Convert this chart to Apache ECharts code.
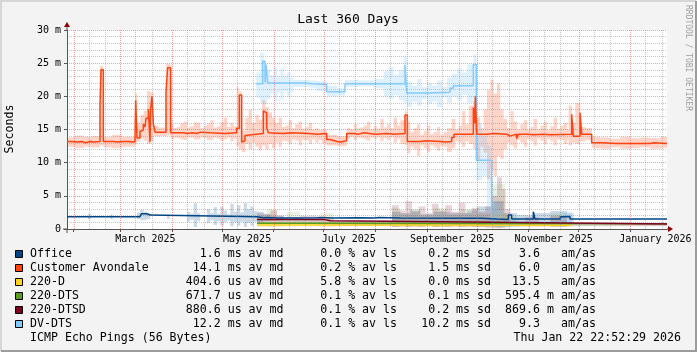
<!DOCTYPE html>
<html>
<head>
<meta charset="utf-8">
<script src="https://cdn.jsdelivr.net/npm/echarts@6.0.0/dist/echarts.min.js"></script>
<style>
html, body { margin: 0; padding: 0; background: #f3f3f3; }
#chart { width: 697px; height: 352px; }
</style>
</head>
<body>
<div id="chart"></div>
<script>
// x values are days since the start of the 360 day window
var START = Date.UTC(2025, 0, 27, 22, 52, 29);
function dayOf(y, m, d) { return (Date.UTC(y, m, d) - START) / 864e5; }

var yTicks = [0, 5, 10, 15, 20, 25, 30];
var labelMonths = [[2025, 2], [2025, 4], [2025, 6], [2025, 8], [2025, 10], [2026, 0]];
var labelText = ['March 2025', 'May 2025', 'July 2025', 'September 2025', 'November 2025', 'January 2026'];

// medians, ms : [day, value] step points
var officeMedian = [[0,1.85],[43.8,2.1],[44.6,2.3],[46,2.2],[47,2.3],[48,2.1],[49.8,1.85],[113.8,1.7],[118,1.75],[120,1.65],[126,1.75],[127,1.65],[140,1.7],[150,1.75],[152,1.65],[160,1.7],[175,1.65],[185,1.75],[187,1.65],[200,1.62],[248.8,1.66],[250,1.5],[258,1.45],[264.8,2.1],[266.8,1.5],[279.8,2.6],[280.8,1.5],[296,1.85],[298,1.55],[299,1.9],[301.8,1.5],[330,1.6],[331,1.5],[337,1.6],[338,1.5],[350,1.6],[351,1.5],[360,1.5]];
var avondaleMedian = [[0,13.2],[2.5,13.5],[3.5,13.1],[6,13.2],[9,13.0],[11,13.2],[14,13.1],[16,13.3],[17,13.2],[19.8,18.7],[20.4,24.0],[21.8,13.2],[24,13.4],[25,13.2],[28,13.1],[30,13.2],[34,13.5],[35,13.2],[37,13.1],[39,13.2],[40.8,13.6],[41.2,19.4],[42,13.7],[43.8,14.7],[44.6,14.9],[45.8,15.8],[46.8,15.4],[47.4,16.7],[48.8,18.1],[49.8,13.1],[50.2,18.1],[51,20.0],[51.8,15.9],[52.8,14.6],[59.4,20.7],[60.4,24.3],[62.2,14.5],[70,14.4],[72,14.5],[75,14.6],[76,14.4],[78,14.6],[80,14.5],[86,14.4],[95,14.5],[101.8,15.2],[103.4,20.2],[104.8,13.1],[105.8,13.3],[106.8,14.1],[107.8,14.4],[117.8,17.8],[118.8,17.5],[119.8,15.3],[120.8,14.5],[121.8,14.4],[130,14.5],[134,14.4],[145,14.3],[150,14.4],[155.8,13.5],[157.8,13.2],[162,13.1],[164,13.3],[167.8,14.4],[172,14.3],[175,14.5],[178,14.3],[185,14.4],[192,14.3],[196,14.4],[202.8,17.2],[204.2,13.2],[212,13.3],[215,13.2],[224,13.1],[227,13.2],[230.8,13.8],[232.2,14.3],[243.8,18.3],[244.6,15.9],[245,20.0],[245.8,14.3],[252,14.4],[256,14.3],[264,14.0],[265.6,14.3],[269.8,13.6],[270.8,14.3],[276,14.2],[280,14.3],[286,14.2],[290,14.3],[302.8,17.3],[303.8,14.0],[307.8,17.5],[308.8,14.3],[314.8,13.0],[320.8,12.9],[330,12.8],[331,12.9],[342,12.8],[343,12.9],[350,13.0],[352,12.9],[360,12.9]];
var d220Median = [[114,0.6],[200,0.55],[302.8,0.55]];
var dts220Median = [[114,0.86],[160,0.8],[360,0.7]];
var dtsd220Median = [[114,1.45],[154,1.25],[158,1.0],[256,0.75],[360,0.75]];
var dvdtsMedian = [[113.5,21.9],[117.4,25.3],[118.8,22.1],[119.4,24.8],[120.4,22.0],[141.8,21.9],[147.8,21.8],[155.8,20.7],[166.8,21.9],[192.8,21.8],[193.8,21.9],[202.8,24.7],[203.8,20.5],[217.8,20.6],[229.8,21.2],[231.8,21.6],[243.8,24.8],[245.6,10.35],[254.8,1.5],[256.8,0.8],[264.8,0.55],[271.8,0.9],[302.8,0.9]];

// smoke, ms : [dayFrom, dayTo, low, high]
var officeSmoke = [[12.6,14.4,1.5,2.3],[26,27.4,1.5,2.2],[42,44,1.5,2.5],[44,46,1.3,2.9],[46,48,1.4,2.6],[48,50,1.5,2.4],[60,61.5,1.5,2.2],[72,74,1.1,2.6],[74,76,1.4,2.3],[76,78,0.3,3.9],[78,80,1.2,2.4],[84,86,0.9,3.0],[86,88,1.3,2.4],[88,90,0.6,3.3],[90,92,1.2,2.3],[92,94,0.5,3.4],[94,96,1.0,2.8],[96,98,1.3,2.2],[98,100,0.4,3.8],[100,102,1.0,2.6],[102,104,0.5,3.6],[104,106,1.1,2.5],[106,108,0.3,3.9],[108,110,0.9,3.0],[110,112,0.5,3.4],[112,114,1.1,2.7],[114,118,1.0,2.6],[118,122,1.2,2.3],[122,130,1.3,2.0],[195,200,1.0,2.6],[200,206,1.1,2.4],[206,212,1.0,2.8],[212,220,1.2,2.2],[220,230,1.0,2.6],[230,240,1.1,2.4],[240,246,1.0,2.8],[246,256,0.6,3.4],[256,262,0.4,4.2],[262,270,1.0,2.4],[270,280,1.1,2.1],[280,290,1.0,2.4],[290,300,0.9,2.7],[300,304,1.0,2.4]];
var avondaleSmoke = [[0,5,12.4,13.8],[5,10,12.2,14.1],[10,15,12.4,13.9],[15,19.8,12.3,14.0],[19.8,21.8,12.6,24.6],[21.8,27,12.3,13.9],[27,33,12.2,14.2],[33,40.8,12.4,13.9],[40.8,42,12.8,20.5],[42,44,13.2,16.0],[44,46,13.6,17.2],[46,48,13.3,17.8],[48,50,12.8,20.8],[50,52,13.2,20.6],[52,55,14.0,15.6],[55,59.4,14.0,15.3],[59.4,62.2,14.1,24.9],[62.2,64,13.6,15.8],[64,66,13.8,15.2],[66,68,13.7,15.4],[68,70,13.5,15.9],[70,72,13.4,16.2],[72,74,13.8,15.3],[74,76,13.8,15.5],[76,78,13.5,16.1],[78,80,13.5,16.0],[80,82,13.8,15.2],[82,84,13.7,15.6],[84,86,13.4,15.9],[86,88,13.4,16.4],[88,90,13.8,15.3],[90,92,13.6,15.5],[92,94,13.3,16.1],[94,96,13.5,16.8],[96,98,13.8,15.4],[98,100,13.2,16.0],[100,101.8,13.6,15.5],[101.8,103,12.5,21.5],[103,104.8,12.0,20.8],[104.8,107,11.6,14.8],[107,109,12.8,16.8],[109,111,12.0,18.0],[111,113,13.0,16.0],[113,115,12.4,17.2],[115,117,11.8,16.5],[117,119,12.6,19.4],[119,121,12.0,18.4],[121,123,12.8,17.6],[123,125,12.2,16.8],[125,127,13.0,16.0],[127,129,12.4,16.8],[129,131,13.3,15.4],[131,133,13.2,15.6],[133,135,12.8,16.4],[135,137,13.5,15.2],[137,139,13.3,15.8],[139,141,12.6,16.2],[141,143,13.4,15.1],[143,145,13.4,15.4],[145,147,12.8,16.0],[147,149,13.5,15.0],[149,151,13.0,15.2],[151,153,13.4,14.9],[153,155.8,12.9,15.0],[155.8,162,12.6,14.2],[162,167.8,12.5,14.0],[167.8,170,13.6,15.2],[170,172,13.9,15.0],[172,174,13.4,15.8],[174,176,13.8,15.1],[176,178,13.7,15.3],[178,180,13.5,15.6],[180,182,13.3,16.2],[182,184,13.8,15.0],[184,186,13.6,15.5],[186,188,13.9,15.1],[188,190,13.2,16.6],[190,192,13.7,15.3],[192,194,13.4,15.8],[194,196,13.8,15.2],[196,198,13.0,16.8],[198,200,13.6,15.6],[200,202.8,12.8,16.4],[202.8,204.2,12.6,17.8],[204.2,206,11.4,16.2],[206,208,12.4,14.6],[208,210,12.0,15.2],[210,212,11.0,15.8],[212,214,12.6,14.2],[214,216,12.2,14.8],[216,218,11.6,15.6],[218,220,12.6,14.3],[220,222,12.3,14.6],[222,224,11.8,15.4],[224,226,12.5,14.2],[226,228,12.4,14.6],[228,230.8,11.6,15.2],[230.8,233,12.2,16.6],[233,235,13.2,15.0],[235,237,13.0,15.6],[237,239,12.4,17.8],[239,241,13.2,15.8],[241,243.8,12.8,18.6],[243.8,246,12.0,19.2],[246,248,10.4,16.8],[248,250,12.4,15.2],[250,252,11.5,18.0],[252,254,7.5,21.0],[254,256,9.0,22.5],[256,258,8.0,20.4],[258,260,11.0,22.0],[260,262,10.6,18.0],[262,264,12.0,16.6],[264,266,13.0,15.2],[266,268,12.6,17.8],[268,270,12.2,16.2],[270,272,13.4,15.0],[272,274,13.0,15.8],[274,276,12.4,16.4],[276,278,13.5,15.0],[278,280,13.2,15.4],[280,282,12.6,16.6],[282,284,13.6,15.0],[284,286,13.3,15.6],[286,288,12.8,16.2],[288,290,13.6,14.9],[290,292,13.2,15.5],[292,294,12.6,16.8],[294,296,13.5,15.1],[296,298,13.4,15.6],[298,300,12.8,16.0],[300,301,13.4,15.0],[301,303,12.6,18.6],[303,305,13.0,16.0],[305,308,12.8,19.0],[308,311,13.2,15.4],[311,314.8,13.4,15.2],[314.8,320,12.2,13.9],[320,326,12.1,13.8],[326,332,12.3,13.6],[332,338,12.1,13.9],[338,344,12.2,13.7],[344,350,12.3,13.8],[350,356,12.1,13.7],[356,360,12.2,13.9]];
var d220Smoke = [[114,130,0.3,1.0],[130,195,0.4,0.7],[195,255,0.3,1.2],[255,264,0.2,2.4],[264,303,0.3,0.8]];
var dts220Smoke = [[114,120,0.4,2.0],[120,126,0.3,3.0],[126,132,0.4,1.6],[132,140,0.4,2.6],[140,152,0.4,1.4],[152,160,0.3,2.4],[160,195,0.4,1.1],[195,200,0.3,3.2],[200,206,0.4,2.2],[206,212,0.3,3.0],[212,220,0.4,2.0],[220,228,0.3,3.2],[228,236,0.4,2.2],[236,246,0.3,3.0],[246,255,0.3,2.4],[255,263,0.2,6.8],[263,270,0.4,2.0],[270,290,0.5,1.0],[290,300,0.4,2.4],[300,360,0.5,0.9]];
var dtsd220Smoke = [[114,118,0.8,2.4],[118,122,0.9,2.2],[122,126,0.7,2.8],[126,130,0.9,2.0],[130,140,0.9,1.8],[140,150,0.8,2.0],[150,160,0.6,1.6],[160,195,0.5,1.3],[195,199,0.3,3.6],[199,203,0.4,2.8],[203,207,0.3,4.2],[207,211,0.4,2.6],[211,215,0.3,3.4],[215,219,0.5,2.4],[219,223,0.3,3.8],[223,227,0.4,2.8],[227,231,0.3,3.6],[231,235,0.4,2.6],[235,239,0.3,4.0],[239,243,0.4,2.4],[243,247,0.3,3.2],[247,251,0.3,2.6],[251,255,0.2,3.4],[255,258,0.2,5.0],[258,261,0.1,7.8],[261,263,0.2,6.0],[263,266,0.3,3.0],[266,275,0.4,1.0],[275,283,0.4,1.8],[283,290,0.4,1.0],[290,300,0.3,2.0],[300,360,0.4,0.8]];
var dvdtsSmoke = [[113.5,116,19.8,23.6],[116,118,19.0,26.6],[118,120,18.8,24.2],[120,122,19.6,24.0],[122,124,20.4,23.2],[124,126,19.2,24.4],[126,128,20.6,23.0],[128,130,19.4,24.2],[130,132,20.8,23.0],[132,134,19.8,23.6],[134,136,20.6,22.8],[136,146,21.4,22.5],[146,150,21.2,22.4],[150,156,20.8,22.3],[156,162,20.0,21.6],[162,166.8,20.1,21.2],[166.8,175,21.4,22.5],[175,184,21.5,22.4],[184,190,21.2,22.6],[190,193,20.0,23.8],[193,196,19.6,24.4],[196,199,20.2,23.2],[199,202,19.4,24.0],[202,204,19.0,26.0],[204,207,18.4,22.2],[207,210,19.2,21.6],[210,213,18.6,22.6],[213,216,19.6,21.4],[216,219,18.8,22.0],[219,222,19.2,21.6],[222,225,18.4,22.4],[225,228,19.8,21.4],[228,231,19.0,22.8],[231,234,20.0,23.4],[234,237,19.4,24.2],[237,240,20.2,23.6],[240,243.8,19.0,24.8],[243.8,245.6,18.8,26.4],[245.6,249,7.4,16.0],[249,252,8.0,14.0],[252,254.8,2.6,12.6],[254.8,258,0.4,4.2],[258,262,0.3,2.8],[262,272,0.3,1.4],[272,296,0.6,1.2],[296,302.8,0.4,2.6]];

// legend table
var legendNames = ['Office', 'Customer Avondale', '220-D', '220-DTS', '220-DTSD', 'DV-DTS'];
var legendColors = ['#004586', '#ff420e', '#ffd320', '#579d1c', '#7e0021', '#83caff'];
var legendMedian = ['1.6 ms', '14.1 ms', '404.6 us', '671.7 us', '880.6 us', '12.2 ms'];
var legendLoss = ['0.0', '0.2', '5.8', '0.1', '0.1', '0.1'];
var legendSd = ['0.2', '1.5', '0.0', '0.1', '0.2', '10.2'];
var legendAmas = ['3.6', '6.0', '13.5', '595.4', '869.6', '9.3'];
var legendAmasUnit = ['', '', '', 'm', 'm', ''];

var monthStarts = [];
var minorDays = [];
for (var i = 1; i <= 12; i++) {
    var yy = 2025 + Math.floor(i / 12), mm = i % 12;
    monthStarts.push(dayOf(yy, mm, 1));
    minorDays.push(dayOf(yy, mm, 10), dayOf(yy, mm, 20));
}
var labelDays = labelMonths.map(function(v) { return dayOf(v[0], v[1], 1) + 15; });

var MONO = '"DejaVu Sans Mono", monospace';
var chart = echarts.init(document.getElementById('chart'));

function smokeSeries(name, data, color) {
    return {
        name: name,
        type: 'custom',
        data: data,
        encode: { x: [0, 1], y: [2, 3] },
        itemStyle: { color: color },
        z: 2,
        clip: true,
        silent: true,
        renderItem: function(params, api) {
            var p0 = api.coord([api.value(0), api.value(3)]);
            var p1 = api.coord([api.value(1), api.value(2)]);
            return {
                type: 'rect',
                shape: { x: p0[0], y: p0[1], width: p1[0] - p0[0], height: p1[1] - p0[1] },
                style: { fill: api.visual('color') }
            };
        }
    };
}

function medianSeries(name, data, color) {
    return {
        name: name,
        type: 'line',
        step: 'end',
        data: data,
        symbol: 'none',
        lineStyle: { color: color, width: 1.5 },
        itemStyle: { color: color },
        z: 4,
        silent: true
    };
}

var gridLines = [];
minorDays.forEach(function(d) {
    if (d > 0 && d < 360) gridLines.push({ xAxis: d, lineStyle: { color: 'rgba(128,128,128,0.45)', type: [1, 1], width: 1 } });
});
monthStarts.forEach(function(d) {
    gridLines.push({ xAxis: d, lineStyle: { color: 'rgba(235,80,80,0.55)', type: [1, 1], width: 1 } });
});

// legend graphics
var graphic = [];
graphic.push({ type: 'text', x: 348, y: 19.5, style: { text: 'Last 360 Days', font: '13px ' + MONO, fill: '#000', align: 'center', verticalAlign: 'middle' } });
graphic.push({ type: 'text', x: 10, y: 129, rotation: Math.PI / 2, style: { text: 'Seconds', font: '11.6px ' + MONO, fill: '#000', align: 'center', verticalAlign: 'middle' } });
graphic.push({ type: 'text', x: 688, y: 5, rotation: -Math.PI / 2, style: { text: 'RRDTOOL / TOBI OETIKER', font: '8px ' + MONO, fill: '#a0a0a0', align: 'left', verticalAlign: 'middle' } });
for (var r = 0; r < legendNames.length; r++) {
    var ty = 254 + r * 14;
    var f = '11.6px ' + MONO;
    graphic.push({ type: 'rect', shape: { x: 15.5, y: ty - 3.5, width: 7, height: 7 }, style: { fill: legendColors[r], stroke: '#000', lineWidth: 1 } });
    graphic.push({ type: 'text', x: 30, y: ty, style: { text: legendNames[r], font: f, fill: '#000', align: 'left', verticalAlign: 'middle' } });
    graphic.push({ type: 'text', x: 283.5, y: ty, style: { text: legendMedian[r] + ' av md', font: f, fill: '#000', align: 'right', verticalAlign: 'middle' } });
    graphic.push({ type: 'text', x: 397, y: ty, style: { text: legendLoss[r] + ' % av ls', font: f, fill: '#000', align: 'right', verticalAlign: 'middle' } });
    graphic.push({ type: 'text', x: 491, y: ty, style: { text: legendSd[r] + ' ms sd', font: f, fill: '#000', align: 'right', verticalAlign: 'middle' } });
    graphic.push({ type: 'text', x: 540, y: ty, style: { text: legendAmas[r], font: f, fill: '#000', align: 'right', verticalAlign: 'middle' } });
    if (legendAmasUnit[r]) graphic.push({ type: 'text', x: 547, y: ty, style: { text: legendAmasUnit[r], font: f, fill: '#000', align: 'left', verticalAlign: 'middle' } });
    graphic.push({ type: 'text', x: 561, y: ty, style: { text: 'am/as', font: f, fill: '#000', align: 'left', verticalAlign: 'middle' } });
}
graphic.push({ type: 'text', x: 30, y: 338, style: { text: 'ICMP Echo Pings (56 Bytes)', font: '11.6px ' + MONO, fill: '#000', align: 'left', verticalAlign: 'middle' } });
graphic.push({ type: 'text', x: 681, y: 338, style: { text: 'Thu Jan 22 22:52:29 2026', font: '11.6px ' + MONO, fill: '#000', align: 'right', verticalAlign: 'middle' } });
// frame
graphic.push({ type: 'polyline', shape: { points: [[1, 351], [1, 1], [696, 1]] }, style: { stroke: '#d6d6d6', lineWidth: 2, fill: null } });
graphic.push({ type: 'polyline', shape: { points: [[1, 351], [696, 351], [696, 1]] }, style: { stroke: '#9c9c9c', lineWidth: 2, fill: null } });

var option = {
    animation: false,
    backgroundColor: '#f3f3f3',
    grid: { left: 67, right: 30, top: 30, bottom: 123, show: true, backgroundColor: '#ffffff', borderWidth: 0 },
    xAxis: {
        type: 'value',
        min: 0,
        max: 360,
        splitLine: { show: false },
        axisLine: { show: true, lineStyle: { color: '#555', width: 1 } },
        axisTick: { show: true, customValues: monthStarts, length: 3, lineStyle: { color: '#555' } },
        axisLabel: {
            customValues: labelDays,
            margin: 5,
            color: '#000',
            fontFamily: MONO,
            fontSize: 10,
            formatter: function(v) {
                for (var k = 0; k < labelDays.length; k++) {
                    if (Math.abs(labelDays[k] - v) < 0.01) return labelText[k];
                }
                return '';
            }
        }
    },
    yAxis: {
        type: 'value',
        min: yTicks[0],
        max: yTicks[yTicks.length - 1],
        interval: 5,
        axisLine: { show: true, lineStyle: { color: '#555', width: 1 } },
        axisTick: { show: true, length: 3, lineStyle: { color: '#555' } },
        axisLabel: {
            margin: 6,
            color: '#000',
            fontFamily: MONO,
            fontSize: 10,
            formatter: function(v) { return v === 0 ? '0' : v + ' m'; }
        },
        splitLine: { show: true, lineStyle: { color: 'rgba(235,80,80,0.55)', type: [1, 1] } },
        minorTick: { show: false, splitNumber: 5 },
        minorSplitLine: { show: true, lineStyle: { color: 'rgba(128,128,128,0.45)', type: [1, 1] } }
    },
    series: [
        {
            type: 'line',
            data: [],
            z: 1,
            silent: true,
            markLine: { symbol: 'none', silent: true, animation: false, label: { show: false }, data: gridLines }
        },
        smokeSeries('Office smoke', officeSmoke, 'rgba(0,69,134,0.2)'),
        smokeSeries('Customer Avondale smoke', avondaleSmoke, 'rgba(255,66,14,0.22)'),
        smokeSeries('220-D smoke', d220Smoke, 'rgba(255,211,32,0.18)'),
        smokeSeries('220-DTS smoke', dts220Smoke, 'rgba(87,157,28,0.13)'),
        smokeSeries('220-DTSD smoke', dtsd220Smoke, 'rgba(126,0,33,0.17)'),
        smokeSeries('DV-DTS smoke', dvdtsSmoke, 'rgba(131,202,255,0.26)'),
        medianSeries('DV-DTS', dvdtsMedian, '#83caff'),
        medianSeries('220-D', d220Median, '#ffd320'),
        medianSeries('220-DTS', dts220Median, '#579d1c'),
        medianSeries('220-DTSD', dtsd220Median, '#7e0021'),
        medianSeries('Customer Avondale', avondaleMedian, '#ff420e'),
        medianSeries('Office', officeMedian, '#004586')
    ],
    graphic: graphic
};
chart.setOption(option);

// axis arrows, placed from the axis scale
var o = chart.convertToPixel({ gridIndex: 0 }, [0, 0]);
var t = chart.convertToPixel({ gridIndex: 0 }, [0, yTicks[yTicks.length - 1]]);
var e = chart.convertToPixel({ gridIndex: 0 }, [360, 0]);
graphic.push({ type: 'line', shape: { x1: o[0], y1: t[1], x2: o[0], y2: t[1] - 4 }, style: { stroke: '#555', lineWidth: 1 } });
graphic.push({ type: 'polygon', shape: { points: [[o[0] - 3, t[1] - 3], [o[0] + 3, t[1] - 3], [o[0], t[1] - 8]] }, style: { fill: '#8b0000' } });
graphic.push({ type: 'line', shape: { x1: o[0] - 4, y1: o[1], x2: o[0], y2: o[1] }, style: { stroke: '#555', lineWidth: 1 } });
graphic.push({ type: 'line', shape: { x1: o[0], y1: o[1], x2: o[0], y2: o[1] + 4 }, style: { stroke: '#555', lineWidth: 1 } });
graphic.push({ type: 'line', shape: { x1: e[0], y1: e[1], x2: e[0] + 2, y2: e[1] }, style: { stroke: '#555', lineWidth: 1 } });
graphic.push({ type: 'polygon', shape: { points: [[e[0] + 1, e[1] - 3], [e[0] + 1, e[1] + 3], [e[0] + 6, e[1]]] }, style: { fill: '#8b0000' } });
chart.setOption({ graphic: graphic });
</script>
</body>
</html>
